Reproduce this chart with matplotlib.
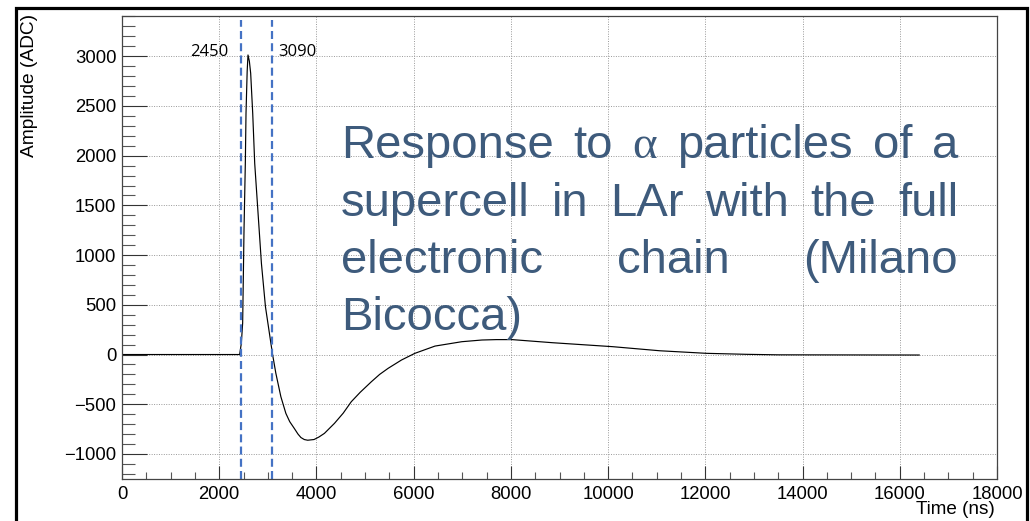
import matplotlib
matplotlib.use("Agg")
import matplotlib.pyplot as plt
from matplotlib.ticker import MultipleLocator
from matplotlib.patches import Rectangle

# ---- data ----
time_ns = [0, 2420, 2455, 2482, 2496, 2510, 2537, 2551, 2575, 2592, 2620, 2647,
           2689, 2730, 2799, 2868, 2951, 3096, 3165, 3268, 3371, 3450, 3544,
           3620, 3681, 3750, 3820, 3950, 4050, 4164, 4371, 4550, 4716, 4900,
           5129, 5300, 5474, 5750, 6025, 6439, 6991, 7404, 7700, 8025, 8852,
           10093, 11059, 12023, 12850, 13500, 16400]
amplitude = [0, 0, 113, 317, 783, 1253, 1923, 2426, 2850, 3013, 2950, 2829,
             2426, 1923, 1420, 917, 481, 5, -189, -424, -592, -675, -743,
             -800, -835, -855, -862, -855, -830, -793, -692, -590, -475, -380,
             -274, -200, -139, -55, 12, 85, 129, 146, 150, 150, 119, 79, 38,
             12, 2, -3, -5]
markers = [2450, 3090]
marker_labels = ["2450", "3090"]
text_lines = [["Response", "to", "\u03b1", "particles", "of", "a"],
              ["supercell", "in", "LAr", "with", "the", "full"],
              ["electronic", "chain", "(Milano"],
              ["Bicocca)"]]

W, H = 1030, 521
fig = plt.figure(figsize=(W / 100, H / 100), dpi=100)
plt.rcParams['font.family'] = ['Liberation Sans', 'DejaVu Sans']

ax = fig.add_axes([122 / W, 1 - 479 / H, (997 - 122) / W, (479 - 16) / H])
ax.set_xlim(0, 18000)
ax.set_ylim(-1252, 3405)

ax.plot(time_ns, amplitude, color='black', lw=0.85)
ax.vlines(markers, ymin=-1252, ymax=3365, colors='#4472C4',
          linestyles=[(0, (3.6, 1.9))], lw=1.6)
ax.text(markers[0] - 260, 3000, marker_labels[0], ha='right', va='baseline',
        fontsize=12, family=['Open Sans', 'DejaVu Sans'])
ax.text(markers[1] + 115, 3000, marker_labels[1], ha='left', va='baseline',
        fontsize=12, family=['Open Sans', 'DejaVu Sans'])

ax.xaxis.set_major_locator(MultipleLocator(2000))
ax.xaxis.set_minor_locator(MultipleLocator(500))
ax.yaxis.set_major_locator(MultipleLocator(500))
ax.yaxis.set_minor_locator(MultipleLocator(100))
ax.tick_params(axis='y', which='major', direction='in', length=18, width=0.8,
               labelsize=13.3, pad=4, color='#333333')
ax.tick_params(axis='y', which='minor', direction='in', length=9.5, width=0.8,
               color='#555555')
ax.tick_params(axis='x', which='major', direction='in', length=9.5, width=0.8,
               labelsize=13.3, pad=5, color='#333333')
ax.tick_params(axis='x', which='minor', direction='in', length=5, width=0.8,
               color='#555555')
ax.grid(which='major', linestyle=(0, (1, 1.5)), color='#999999', lw=0.7)
ax.set_axisbelow(True)
for s in ax.spines.values():
    s.set_color('#444444')
    s.set_linewidth(0.9)

fig.text(30 / W, 1 - 14 / H, "Amplitude (ADC)", rotation=90, ha='center',
         va='top', fontsize=13.8)
fig.text(995 / W, 1 - 510 / H, "Time (ns)", ha='right', va='center',
         fontsize=13.6)

# outer slide frame
fig.patches.append(Rectangle((15.5 / W, -0.05), (1026.5 - 15.5) / W,
                             1 - 7.5 / H + 0.05, transform=fig.transFigure,
                             fill=False, edgecolor='black', lw=2.3,
                             figure=fig))

# justified text block
fig.canvas.draw()
r = fig.canvas.get_renderer()
x0, x1 = 341, 958
baselines = [158, 216, 273, 330]
tcol = '#3E5B7C'
for li, (words, yb) in enumerate(zip(text_lines, baselines)):
    txts = []
    for w in words:
        fam = ['Liberation Serif', 'DejaVu Serif'] if w == "\u03b1" else None
        kw = dict(fontsize=34, color=tcol, va='baseline', ha='left')
        if fam:
            kw['family'] = fam
        txts.append(fig.text(0, 0, w, **kw))
    widths = [t.get_window_extent(r).width for t in txts]
    justify = li < len(text_lines) - 1 and len(words) > 1
    if justify:
        gap = (x1 - x0 - sum(widths)) / (len(words) - 1)
    else:
        gap = 13
    x = x0
    for t, w in zip(txts, widths):
        t.set_position((x / W, 1 - yb / H))
        x += w + gap

fig.savefig("out.png", dpi=100)
